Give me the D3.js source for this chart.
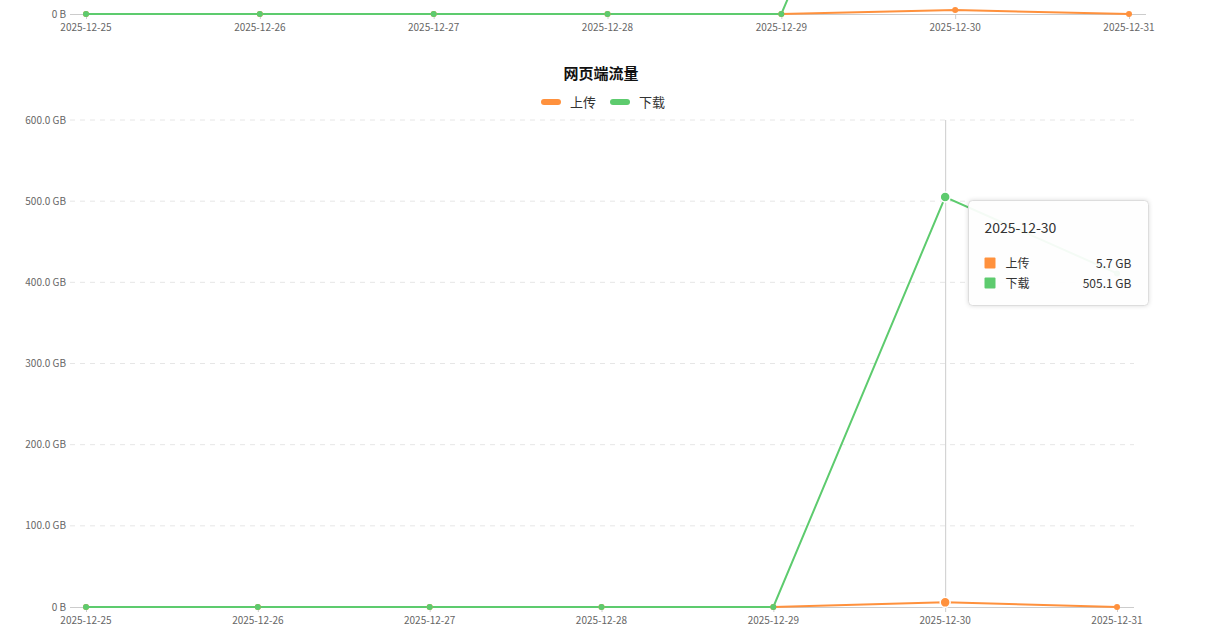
<!DOCTYPE html>
<html><head><meta charset="utf-8">
<script src="https://cdn.jsdelivr.net/npm/d3@7/dist/d3.min.js"></script>
<style>
html,body{margin:0;padding:0;background:#fff;overflow:hidden;}
svg{display:block;font-family:"Noto Sans CJK SC","Open Sans",sans-serif;}
</style></head>
<body>
<svg id="c" width="1217" height="633"></svg>
<script>
const dates = ["2025-12-25","2025-12-26","2025-12-27","2025-12-28","2025-12-29","2025-12-30","2025-12-31"];
const yTicks = [0,100,200,300,400,500,600];
const seriesNames = ["上传","下载"];
const colors = ["#ff913d","#5dcb6e"];
// top (partially visible) chart
const topUpload   = [0,0,0,0,0,4.9,0];
const topDownload = [0,0,0,0,0,505.1,411];
// web traffic chart
const webUpload   = [0,0,0,0,0,5.7,0];
const webDownload = [0,0,0,0,0,505.1,411];
const tooltipIndex = 5;

const svg = d3.select("#c");
const fmt = v => v === 0 ? "0 B" : v.toFixed(1) + " GB";

function drawChart(g, opt){
  const x = d3.scalePoint().domain(dates).range([opt.x0, opt.x1]);
  const y = d3.scaleLinear().domain([0,600]).range([opt.yb, opt.yt]);
  const visTicks = yTicks.filter(t => y(t) >= 0);
  // grid
  g.selectAll(".grid").data(visTicks.filter(t=>t>0)).join("line")
    .attr("x1", opt.ax0).attr("x2", opt.ax1)
    .attr("y1", d=>y(d)).attr("y2", d=>y(d))
    .attr("stroke","#e6e6e6").attr("stroke-dasharray","5,5");
  // y labels
  g.selectAll(".yl").data(visTicks).join("text")
    .attr("x", opt.ax0-4).attr("y", d=>y(d)).attr("dy","0.35em")
    .attr("text-anchor","end").attr("font-size",10).attr("fill","#666")
    .text(d=>fmt(d));
  // x axis
  g.append("line").attr("x1",opt.ax0).attr("x2",opt.ax1)
    .attr("y1",opt.yb+0.5).attr("y2",opt.yb+0.5).attr("stroke","#ccc");
  g.selectAll(".xt").data(dates).join("line")
    .attr("x1",d=>x(d)+0.5).attr("x2",d=>x(d)+0.5)
    .attr("y1",opt.yb).attr("y2",opt.yb+5).attr("stroke","#ccc");
  g.selectAll(".xl").data(dates).join("text")
    .attr("x",d=>x(d)).attr("y",opt.yb+17).attr("text-anchor","middle")
    .attr("font-size",10).attr("fill","#666").text(d=>d);
  if(opt.crosshair){
    g.append("line").attr("x1",x(dates[tooltipIndex])+0.5).attr("x2",x(dates[tooltipIndex])+0.5)
      .attr("y1",opt.yt).attr("y2",opt.yb).attr("stroke","#ccc");
  }
  const line = d3.line().x((d,i)=>x(dates[i])).y(d=>y(d));
  opt.series.forEach((s,k)=>{
    g.append("path").datum(s).attr("d",line).attr("fill","none")
      .attr("stroke",colors[k]).attr("stroke-width",2);
  });
  opt.series.forEach((s,k)=>{
    g.selectAll(".pt"+k).data(s).join("circle")
      .attr("cx",(d,i)=>x(dates[i])).attr("cy",d=>y(d))
      .attr("r",(d,i)=> opt.crosshair && i===tooltipIndex ? 5 : 3)
      .attr("fill",colors[k])
      .attr("stroke",(d,i)=> opt.crosshair && i===tooltipIndex ? "#fff" : "none")
      .attr("stroke-width",1.5);
  });
  return {x,y};
}

// top chart (mostly scrolled out of view)
const gTop = svg.append("g");
drawChart(gTop, {x0:86, x1:1129, ax0:70, ax1:1146, yb:14, yt:14-487, series:[topUpload, topDownload], crosshair:false});

// web chart
const gWeb = svg.append("g");
drawChart(gWeb, {x0:86, x1:1117, ax0:70, ax1:1134, yb:607, yt:120, series:[webUpload, webDownload], crosshair:true});

// title
svg.append("text").attr("x",601).attr("y",79).attr("text-anchor","middle")
  .attr("font-size",15).attr("font-weight","bold").attr("fill","#111").text("网页端流量");
// legend
const leg = svg.append("g");
const legX = [541, 610];
seriesNames.forEach((n,k)=>{
  leg.append("rect").attr("x",legX[k]).attr("y",99).attr("width",20).attr("height",6)
    .attr("rx",3).attr("fill",colors[k]);
  leg.append("text").attr("x",legX[k]+29).attr("y",102).attr("dy","0.36em")
    .attr("font-size",13).attr("fill","#333").text(n);
});

// tooltip
const defs = svg.append("defs");
const f = defs.append("filter").attr("id","sh").attr("x","-20%").attr("y","-20%").attr("width","140%").attr("height","140%");
f.append("feDropShadow").attr("dx",0).attr("dy",0).attr("stdDeviation",2).attr("flood-color","#000").attr("flood-opacity",0.15);
const tt = svg.append("g").attr("transform","translate(968.5,200.5)");
tt.append("rect").attr("width",180).attr("height",105).attr("rx",4)
  .attr("fill","rgba(255,255,255,0.93)").attr("stroke","#ddd").attr("filter","url(#sh)");
tt.append("text").attr("x",16).attr("y",28).attr("dy","0.35em").attr("font-size",14).attr("fill","#333")
  .text(dates[tooltipIndex]);
const ttVals = [webUpload[tooltipIndex], webDownload[tooltipIndex]];
seriesNames.forEach((n,k)=>{
  const yy = 63 + k*20;
  tt.append("rect").attr("x",16).attr("y",yy-6).attr("width",11).attr("height",11).attr("rx",1).attr("fill",colors[k]);
  tt.append("text").attr("x",37).attr("y",yy).attr("dy","0.35em").attr("font-size",12).attr("fill","#333").text(n);
  tt.append("text").attr("x",163).attr("y",yy).attr("dy","0.35em").attr("text-anchor","end")
    .attr("font-size",12).attr("fill","#333").text(fmt(ttVals[k]));
});
</script>
</body></html>
